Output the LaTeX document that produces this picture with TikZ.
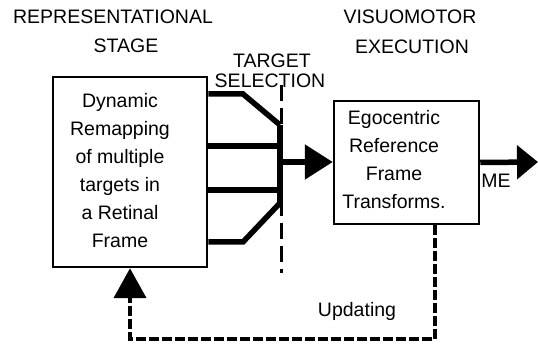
\documentclass[tikz,border=0pt]{standalone}
\usepackage{fontspec}
\setmainfont{Liberation Sans}
\usetikzlibrary{arrows.meta}
\begin{document}
\begin{tikzpicture}[x=1pt,y=-1pt,
  boxnode/.style={draw, line width=2.5pt, inner sep=0pt},
  lbl/.style={font=\fontsize{19.5}{28}\selectfont, inner sep=0pt},
  bus/.style={line width=5.5pt},
  fb/.style={line width=4.5pt, dash pattern=on 9.5pt off 3.5pt},
  sel/.style={line width=3pt, dash pattern=on 16pt off 7pt}]
\useasboundingbox (0,0) rectangle (538,344);
\fill[white] (0,0) rectangle (538,344);
% boxes
\node[boxnode, minimum width=154pt, minimum height=190pt] (rep) at (130,172) {};
\node[boxnode, minimum width=145pt, minimum height=123pt] (ego) at (406.5,162.5) {};
\node[lbl, align=center] (reptxt) at (120,171) {Dynamic\\Remapping\\of multiple\\targets in\\a Retinal\\Frame};
\node[lbl, align=center] (egotxt) at (394,160) {Egocentric\\Reference\\Frame\\Transforms.};
% labels
\node[lbl, anchor=base] (l1) at (113,24) {REPRESENTATIONAL};
\node[lbl, anchor=base] (l2) at (126,53) {STAGE};
\node[lbl, anchor=base] (l3) at (272,68) {TARGET};
\node[lbl, anchor=base] (l4) at (270,88) {SELECTION};
\node[lbl, anchor=base] (l5) at (410,24) {VISUOMOTOR};
\node[lbl, anchor=base] (l6) at (412,54) {EXECUTION};
\node[lbl, anchor=base] (me) at (496,188) {ME};
\node[lbl, anchor=base] (upd) at (357,317) {Updating};
% coordinates
\coordinate (selT) at (281,85);
\coordinate (selB) at (281,273);
\coordinate (k1) at (243,94);
\coordinate (b1) at (280,125);
\coordinate (k2) at (280,146);
\coordinate (k3) at (280,190);
\coordinate (k4) at (243,242);
\coordinate (b4) at (280,203);
\coordinate (bm) at (280,162);
\coordinate (out) at (538,162);
\coordinate (fbR) at (435,339);
\coordinate (fbL) at (130,339);
% selection line
\draw[sel] (selT) -- (selB);
% selection bus
\draw[bus] (rep.east |- k1) -- (k1) -- (b1);
\draw[bus] (rep.east |- k2) -- (k2);
\draw[bus] (rep.east |- k3) -- (k3);
\draw[bus] (rep.east |- k4) -- (k4) -- (b4);
\draw[bus] (b1) -- (b4);
\draw[bus, -{Triangle[length=28pt,width=34pt]}] (bm) -- (ego.west |- bm);
\draw[bus, -{Triangle[length=21pt,width=33pt]}] (ego.east) -- (out);
% feedback
\draw[fb, -{Triangle[length=30pt,width=32pt]}] (ego.south -| fbR) -- (fbR) -- (fbL) -- (rep.south -| fbL);
\end{tikzpicture}
\end{document}
